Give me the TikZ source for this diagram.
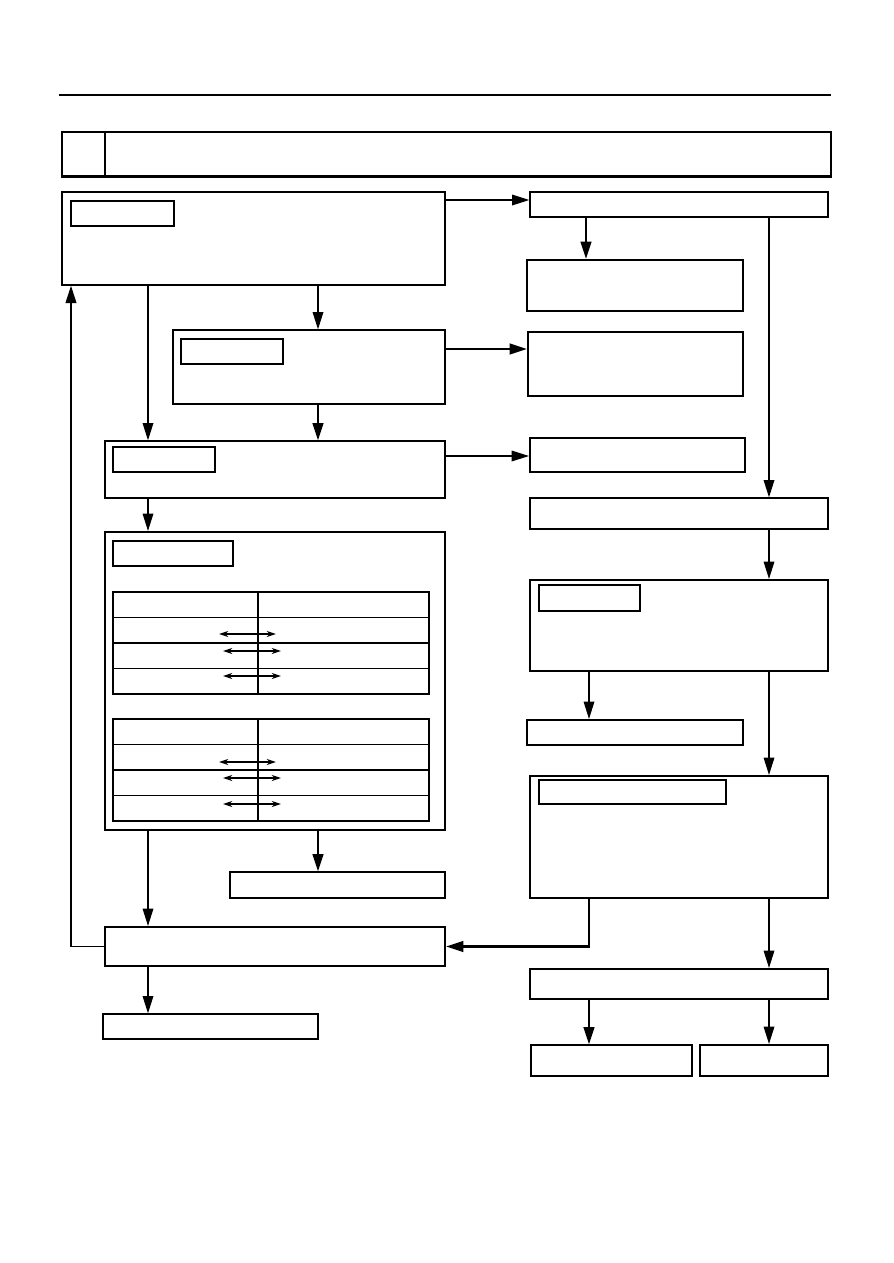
\documentclass[tikz,border=0pt]{standalone}
\usetikzlibrary{arrows.meta,fit}

\tikzset{every picture/.style={line width=0.75pt}}
\tikzset{
  box/.style={draw, inner sep=0pt, line width=1pt},
  heavybox/.style={draw, inner sep=0pt, line width=1.6pt},
  tagbox/.style={draw, inner sep=0pt, line width=0.8pt},
  arr/.style={-{Triangle[length=13pt,width=8pt]}, line width=0.9pt},
  heavyarr/.style={-{Triangle[length=13pt,width=8pt]}, line width=1.8pt},
  swaparr/.style={{Stealth[length=7pt,width=4.5pt]}-{Stealth[length=7pt,width=4.5pt]}, line width=0.9pt},
}

\begin{document}
\begin{tikzpicture}[x=0.75pt,y=0.75pt,yscale=-1,xscale=1]
\useasboundingbox (0,0) rectangle (893,1263);

%columns and rows for the connectors
\coordinate (cfb) at (71,0);
\coordinate (c1) at (148,0);
\coordinate (c2) at (318,0);
\coordinate (c3a) at (586,0);
\coordinate (c3) at (589,0);
\coordinate (c4) at (769,0);
\coordinate (r1) at (0,200);
\coordinate (r2) at (0,349);
\coordinate (r3) at (0,456);

%Line: page header
\draw [line width=2pt] (59,95) -- (831,95) ;

%Shape: title bar
\node [box, fit={(62,132) (831,176)}] (title) {};
\draw [line width=1.8pt] (title.north -| 105,0) -- (title.south -| 105,0) ;
\draw [line width=1.8pt] (title.south west) -- (title.south east) ;

%Left column boxes
\node [box, fit={(62,192) (445,285)}] (diag) {};
\node [tagbox, fit={(71,201) (174,226)}] (diagtag) {};
\node [box, fit={(173,330) (445,404)}] (chk) {};
\node [tagbox, fit={(181,339) (283,364)}] (chktag) {};
\node [box, fit={(105,441) (445,498)}] (insp) {};
\node [tagbox, fit={(113,447) (215,472)}] (insptag) {};
\node [heavybox, fit={(105,532) (445,830)}] (tbl) {};
\node [tagbox, fit={(113,541) (233,566)}] (tbltag) {};
\node [box, fit={(230,872) (445,898)}] (repl) {};
\node [heavybox, fit={(105,927) (445,966)}] (clr) {};
\node [box, fit={(103,1014) (318,1039)}] (done) {};

%Right column boxes
\node [box, fit={(530,192) (828,217)}] (dtc) {};
\node [heavybox, fit={(527,260) (743,311)}] (gotoa) {};
\node [heavybox, fit={(528,332) (743,396)}] (gotob) {};
\node [heavybox, fit={(530,438) (745,472)}] (gotoc) {};
\node [box, fit={(530,498) (828,529)}] (nodtc) {};
\node [heavybox, fit={(530,580) (828,671)}] (volt) {};
\node [tagbox, fit={(539,585) (640,611)}] (volttag) {};
\node [heavybox, fit={(527,720) (743,745)}] (fixv) {};
\node [heavybox, fit={(530,776) (828,898)}] (sig) {};
\node [tagbox, fit={(539,780) (726,804)}] (sigtag) {};
\node [heavybox, fit={(530,969) (828,999)}] (ecu) {};
\node [box, fit={(531,1045) (692,1076)}] (ecuok) {};
\node [heavybox, fit={(700,1045) (828,1076)}] (ecung) {};

%Tables inside the check box
\foreach \top in {592,719} {
  \draw [line width=0.8pt] (113,\top) rectangle (429,\top+102) ;
  \foreach \r in {1,2,3}
    \draw [line width=0.8pt] (113,\top+25.5*\r) -- (429,\top+25.5*\r) ;
  \draw [line width=0.8pt] (258,\top) -- (258,\top+102) ;
}
\foreach \xa/\xb/\y in {219/276/634, 223/281/651, 223/281/676, 219/276/762, 223/281/778, 223/281/804}
  \draw [swaparr] (\xa,\y) -- (\xb,\y) ;

%Connectors: left side
\draw [arr] (diag.east |- r1) -- (dtc.west |- r1) ;
\draw [arr] (diag.south -| c2) -- (chk.north -| c2) ;
\draw [arr] (diag.south -| c1) -- (insp.north -| c1) ;
\draw [heavyarr] (chk.south -| c2) -- (insp.north -| c2) ;
\draw [heavyarr] (chk.east |- r2) -- (gotob.west |- r2) ;
\draw [arr] (insp.east |- r3) -- (gotoc.west |- r3) ;
\draw [arr] (insp.south -| c1) -- (tbl.north -| c1) ;
\draw [arr] (tbl.south -| c1) -- (clr.north -| c1) ;
\draw [heavyarr] (tbl.south -| c2) -- (repl.north -| c2) ;
\draw [arr] (clr.south -| c1) -- (done.north -| c1) ;
\draw [arr, line width=1.2pt] (clr.west) -- (clr.west -| cfb) -- (diag.south -| cfb) ;

%Connectors: right side
\draw [heavyarr] (dtc.south -| c3a) -- (gotoa.north -| c3a) ;
\draw [arr] (dtc.south -| c4) -- (nodtc.north -| c4) ;
\draw [arr] (nodtc.south -| c4) -- (volt.north -| c4) ;
\draw [arr] (volt.south -| c3) -- (fixv.north -| c3) ;
\draw [arr] (volt.south -| c4) -- (sig.north -| c4) ;
\draw [heavyarr] (sig.south -| c3) |- (clr.east) ;
\draw [arr] (sig.south -| c4) -- (ecu.north -| c4) ;
\draw [heavyarr] (ecu.south -| c3) -- (ecuok.north -| c3) ;
\draw [arr] (ecu.south -| c4) -- (ecung.north -| c4) ;

\end{tikzpicture}
\end{document}
